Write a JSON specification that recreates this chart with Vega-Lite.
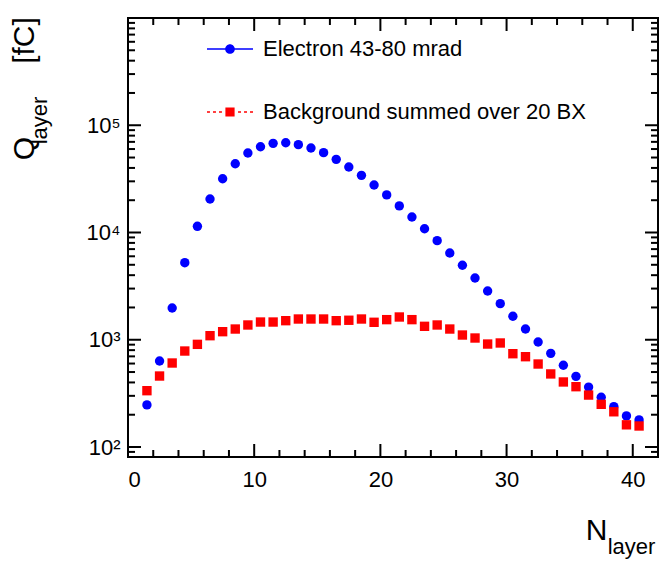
{
  "$schema": "https://vega.github.io/schema/vega-lite/v6.json",
  "width": 530,
  "height": 439,
  "autosize": {"type": "none"},
  "padding": {"left": 128, "top": 18, "right": 2, "bottom": 106},
  "background": "white",
  "config": {
    "view": {"stroke": "#000000", "strokeWidth": 2, "fill": null},
    "font": "Liberation Sans",
    "axis": {
      "grid": false,
      "labelFont": "Liberation Sans",
      "labelFontSize": 22,
      "labelColor": "#000000",
      "titleFont": "Liberation Sans",
      "titleFontWeight": "normal",
      "titleColor": "#000000"
    },
    "legend": {
      "orient": "none",
      "title": null,
      "symbolSize": 2116,
      "labelFontSize": 22,
      "labelFont": "Liberation Sans",
      "labelColor": "#000000",
      "labelOffset": 10,
      "labelLimit": 400,
      "symbolStrokeWidth": 0
    }
  },
  "datasets": {
    "xmajor": [{"v": 0}, {"v": 10}, {"v": 20}, {"v": 30}, {"v": 40}],
    "xminor": [{"v": 2}, {"v": 4}, {"v": 6}, {"v": 8}, {"v": 12}, {"v": 14}, {"v": 16}, {"v": 18}, {"v": 22}, {"v": 24}, {"v": 26}, {"v": 28}, {"v": 32}, {"v": 34}, {"v": 36}, {"v": 38}],
    "ymajor": [{"v": 100}, {"v": 1000}, {"v": 10000}, {"v": 100000}],
    "yminor": [{"v": 90}, {"v": 200}, {"v": 300}, {"v": 400}, {"v": 500}, {"v": 600}, {"v": 700}, {"v": 800}, {"v": 900}, {"v": 2000}, {"v": 3000}, {"v": 4000}, {"v": 5000}, {"v": 6000}, {"v": 7000}, {"v": 8000}, {"v": 9000}, {"v": 20000}, {"v": 30000}, {"v": 40000}, {"v": 50000}, {"v": 60000}, {"v": 70000}, {"v": 80000}, {"v": 90000}, {"v": 200000}, {"v": 300000}, {"v": 400000}, {"v": 500000}, {"v": 600000}, {"v": 700000}, {"v": 800000}, {"v": 900000}]
  },
  "data": {
    "values": [
      {"n": 1.5, "q": 247, "series": "Electron 43-80 mrad"},
      {"n": 2.5, "q": 634, "series": "Electron 43-80 mrad"},
      {"n": 3.5, "q": 1977, "series": "Electron 43-80 mrad"},
      {"n": 4.5, "q": 5230, "series": "Electron 43-80 mrad"},
      {"n": 5.5, "q": 11420, "series": "Electron 43-80 mrad"},
      {"n": 6.5, "q": 20530, "series": "Electron 43-80 mrad"},
      {"n": 7.5, "q": 31740, "series": "Electron 43-80 mrad"},
      {"n": 8.5, "q": 43800, "series": "Electron 43-80 mrad"},
      {"n": 9.5, "q": 55100, "series": "Electron 43-80 mrad"},
      {"n": 10.5, "q": 63100, "series": "Electron 43-80 mrad"},
      {"n": 11.5, "q": 67800, "series": "Electron 43-80 mrad"},
      {"n": 12.5, "q": 68700, "series": "Electron 43-80 mrad"},
      {"n": 13.5, "q": 65900, "series": "Electron 43-80 mrad"},
      {"n": 14.5, "q": 61400, "series": "Electron 43-80 mrad"},
      {"n": 15.5, "q": 55500, "series": "Electron 43-80 mrad"},
      {"n": 16.5, "q": 48100, "series": "Electron 43-80 mrad"},
      {"n": 17.5, "q": 40800, "series": "Electron 43-80 mrad"},
      {"n": 18.5, "q": 34100, "series": "Electron 43-80 mrad"},
      {"n": 19.5, "q": 27700, "series": "Electron 43-80 mrad"},
      {"n": 20.5, "q": 22400, "series": "Electron 43-80 mrad"},
      {"n": 21.5, "q": 17700, "series": "Electron 43-80 mrad"},
      {"n": 22.5, "q": 13950, "series": "Electron 43-80 mrad"},
      {"n": 23.5, "q": 10850, "series": "Electron 43-80 mrad"},
      {"n": 24.5, "q": 8390, "series": "Electron 43-80 mrad"},
      {"n": 25.5, "q": 6440, "series": "Electron 43-80 mrad"},
      {"n": 26.5, "q": 4950, "series": "Electron 43-80 mrad"},
      {"n": 27.5, "q": 3765, "series": "Electron 43-80 mrad"},
      {"n": 28.5, "q": 2850, "series": "Electron 43-80 mrad"},
      {"n": 29.5, "q": 2170, "series": "Electron 43-80 mrad"},
      {"n": 30.5, "q": 1655, "series": "Electron 43-80 mrad"},
      {"n": 31.5, "q": 1259, "series": "Electron 43-80 mrad"},
      {"n": 32.5, "q": 953, "series": "Electron 43-80 mrad"},
      {"n": 33.5, "q": 747, "series": "Electron 43-80 mrad"},
      {"n": 34.5, "q": 578, "series": "Electron 43-80 mrad"},
      {"n": 35.5, "q": 456, "series": "Electron 43-80 mrad"},
      {"n": 36.5, "q": 362, "series": "Electron 43-80 mrad"},
      {"n": 37.5, "q": 291, "series": "Electron 43-80 mrad"},
      {"n": 38.5, "q": 238, "series": "Electron 43-80 mrad"},
      {"n": 39.5, "q": 195, "series": "Electron 43-80 mrad"},
      {"n": 40.5, "q": 179, "series": "Electron 43-80 mrad"},
      {"n": 1.5, "q": 335, "series": "Background summed over 20 BX"},
      {"n": 2.5, "q": 459, "series": "Background summed over 20 BX"},
      {"n": 3.5, "q": 607, "series": "Background summed over 20 BX"},
      {"n": 4.5, "q": 785, "series": "Background summed over 20 BX"},
      {"n": 5.5, "q": 906, "series": "Background summed over 20 BX"},
      {"n": 6.5, "q": 1091, "series": "Background summed over 20 BX"},
      {"n": 7.5, "q": 1189, "series": "Background summed over 20 BX"},
      {"n": 8.5, "q": 1259, "series": "Background summed over 20 BX"},
      {"n": 9.5, "q": 1373, "series": "Background summed over 20 BX"},
      {"n": 10.5, "q": 1463, "series": "Background summed over 20 BX"},
      {"n": 11.5, "q": 1463, "series": "Background summed over 20 BX"},
      {"n": 12.5, "q": 1506, "series": "Background summed over 20 BX"},
      {"n": 13.5, "q": 1561, "series": "Background summed over 20 BX"},
      {"n": 14.5, "q": 1561, "series": "Background summed over 20 BX"},
      {"n": 15.5, "q": 1561, "series": "Background summed over 20 BX"},
      {"n": 16.5, "q": 1506, "series": "Background summed over 20 BX"},
      {"n": 17.5, "q": 1520, "series": "Background summed over 20 BX"},
      {"n": 18.5, "q": 1561, "series": "Background summed over 20 BX"},
      {"n": 19.5, "q": 1455, "series": "Background summed over 20 BX"},
      {"n": 20.5, "q": 1540, "series": "Background summed over 20 BX"},
      {"n": 21.5, "q": 1630, "series": "Background summed over 20 BX"},
      {"n": 22.5, "q": 1540, "series": "Background summed over 20 BX"},
      {"n": 23.5, "q": 1334, "series": "Background summed over 20 BX"},
      {"n": 24.5, "q": 1373, "series": "Background summed over 20 BX"},
      {"n": 25.5, "q": 1259, "series": "Background summed over 20 BX"},
      {"n": 26.5, "q": 1107, "series": "Background summed over 20 BX"},
      {"n": 27.5, "q": 1038, "series": "Background summed over 20 BX"},
      {"n": 28.5, "q": 912, "series": "Background summed over 20 BX"},
      {"n": 29.5, "q": 933, "series": "Background summed over 20 BX"},
      {"n": 30.5, "q": 741, "series": "Background summed over 20 BX"},
      {"n": 31.5, "q": 695, "series": "Background summed over 20 BX"},
      {"n": 32.5, "q": 594, "series": "Background summed over 20 BX"},
      {"n": 33.5, "q": 480, "series": "Background summed over 20 BX"},
      {"n": 34.5, "q": 404, "series": "Background summed over 20 BX"},
      {"n": 35.5, "q": 365, "series": "Background summed over 20 BX"},
      {"n": 36.5, "q": 305, "series": "Background summed over 20 BX"},
      {"n": 37.5, "q": 250, "series": "Background summed over 20 BX"},
      {"n": 38.5, "q": 213, "series": "Background summed over 20 BX"},
      {"n": 39.5, "q": 161, "series": "Background summed over 20 BX"},
      {"n": 40.5, "q": 157, "series": "Background summed over 20 BX"}
    ]
  },
  "resolve": {
    "axis": {"x": "independent", "y": "independent"},
    "scale": {"fill": "independent"},
    "legend": {"fill": "independent"}
  },
  "layer": [
    {
      "data": {"name": "xmajor"},
      "mark": {"type": "bar", "size": 2, "color": "#000000", "opacity": 1},
      "encoding": {
        "x": {"field": "v", "type": "quantitative", "axis": null},
        "y": {"datum": 80.7, "type": "quantitative", "axis": null},
        "y2": {"datum": 106.7}
      }
    },
    {
      "data": {"name": "xmajor"},
      "mark": {"type": "bar", "size": 2, "color": "#000000", "opacity": 1},
      "encoding": {
        "x": {"field": "v", "type": "quantitative", "axis": null},
        "y": {"datum": 756400, "type": "quantitative", "axis": null},
        "y2": {"datum": 1000000}
      }
    },
    {
      "data": {"name": "xminor"},
      "mark": {"type": "bar", "size": 2, "color": "#000000", "opacity": 1},
      "encoding": {
        "x": {"field": "v", "type": "quantitative", "axis": null},
        "y": {"datum": 80.7, "type": "quantitative", "axis": null},
        "y2": {"datum": 93.8}
      }
    },
    {
      "data": {"name": "xminor"},
      "mark": {"type": "bar", "size": 2, "color": "#000000", "opacity": 1},
      "encoding": {
        "x": {"field": "v", "type": "quantitative", "axis": null},
        "y": {"datum": 860600, "type": "quantitative", "axis": null},
        "y2": {"datum": 1000000}
      }
    },
    {
      "data": {"name": "ymajor"},
      "mark": {"type": "bar", "size": 2, "color": "#000000", "opacity": 1, "orient": "horizontal"},
      "encoding": {
        "y": {"field": "v", "type": "quantitative", "axis": null},
        "x": {"datum": 0, "type": "quantitative", "axis": null},
        "x2": {"datum": 1.03}
      }
    },
    {
      "data": {"name": "ymajor"},
      "mark": {"type": "bar", "size": 2, "color": "#000000", "opacity": 1, "orient": "horizontal"},
      "encoding": {
        "y": {"field": "v", "type": "quantitative", "axis": null},
        "x": {"datum": 40.97, "type": "quantitative", "axis": null},
        "x2": {"datum": 42}
      }
    },
    {
      "data": {"name": "yminor"},
      "mark": {"type": "bar", "size": 2, "color": "#000000", "opacity": 1, "orient": "horizontal"},
      "encoding": {
        "y": {"field": "v", "type": "quantitative", "axis": null},
        "x": {"datum": 0, "type": "quantitative", "axis": null},
        "x2": {"datum": 0.555}
      }
    },
    {
      "data": {"name": "yminor"},
      "mark": {"type": "bar", "size": 2, "color": "#000000", "opacity": 1, "orient": "horizontal"},
      "encoding": {
        "y": {"field": "v", "type": "quantitative", "axis": null},
        "x": {"datum": 41.445, "type": "quantitative", "axis": null},
        "x2": {"datum": 42}
      }
    },
    {
      "transform": [{"filter": "datum.series === 'Electron 43-80 mrad'"}],
      "mark": {"type": "point", "shape": "circle", "filled": true, "opacity": 1, "size": 88},
      "encoding": {
        "x": {
          "field": "n", "type": "quantitative",
          "scale": {"domain": [0.3962, 41.6038], "nice": false, "zero": false},
          "axis": {
            "orient": "bottom", "values": [0, 10, 20, 30, 40],
            "domain": false, "ticks": true, "tickOpacity": 0, "tickSize": -13,
            "labelPadding": 25, "labelBaseline": "top", "format": "d",
            "title": "N", "titleFontSize": 30, "titleAlign": "center", "titleBaseline": "alphabetic",
            "titleX": 468, "titleY": 82, "titleAngle": 0
          }
        },
        "y": {
          "field": "q", "type": "quantitative",
          "scale": {"type": "log", "domain": [89.83, 898100], "nice": false},
          "axis": {
            "orient": "left", "values": [100, 1000, 10000, 100000, 1000000],
            "domain": false, "ticks": true, "tickOpacity": 0, "tickSize": -13,
            "labelPadding": 21,
            "labelExpr": "datum.value == 100 ? '10²' : datum.value == 1000 ? '10³' : datum.value == 10000 ? '10⁴' : datum.value == 100000 ? '10⁵' : '10⁶'",
            "title": "Q", "titleFontSize": 30, "titleAngle": -90, "titleAlign": "center", "titleBaseline": "alphabetic",
            "titleX": -95, "titleY": 130
          }
        },
        "fill": {
          "field": "series", "type": "nominal",
          "scale": {"domain": ["Electron 43-80 mrad"], "range": ["#0000ff"]},
          "legend": {
            "legendX": 79, "legendY": 8,
            "symbolType": "M-1,-0.035H1V0.035H-1Z M0.21,0A0.21,0.21,0,1,1,-0.21,0A0.21,0.21,0,1,1,0.21,0Z"
          }
        }
      }
    },
    {
      "transform": [{"filter": "datum.series === 'Background summed over 20 BX'"}],
      "mark": {"type": "point", "shape": "square", "filled": true, "opacity": 1, "size": 88},
      "encoding": {
        "x": {
          "field": "n", "type": "quantitative",
          "axis": {
            "orient": "bottom", "values": [2], "domain": false, "ticks": false, "labels": false,
            "title": "layer", "titleFontSize": 22, "titleAlign": "center", "titleBaseline": "alphabetic",
            "titleX": 503, "titleY": 96, "titleAngle": 0
          }
        },
        "y": {
          "field": "q", "type": "quantitative",
          "axis": {
            "orient": "left", "values": [200], "domain": false, "ticks": false, "labels": false,
            "title": "layer", "titleFontSize": 22, "titleAngle": -90, "titleAlign": "center", "titleBaseline": "alphabetic",
            "titleX": -82, "titleY": 102
          }
        },
        "fill": {
          "field": "series", "type": "nominal",
          "scale": {"domain": ["Background summed over 20 BX"], "range": ["#ff0000"]},
          "legend": {
            "legendX": 79, "legendY": 71,
            "symbolType": "M-1,-0.035H-0.87V0.035H-1Z M-0.74,-0.035H-0.61V0.035H-0.74Z M-0.48,-0.035H-0.35V0.035H-0.48Z M-0.2,-0.2H0.2V0.2H-0.2Z M0.35,-0.035H0.48V0.035H0.35Z M0.61,-0.035H0.74V0.035H0.61Z M0.87,-0.035H1V0.035H0.87Z"
          }
        }
      }
    },
    {
      "mark": {"type": "point", "opacity": 0},
      "encoding": {
        "x": {"field": "n", "type": "quantitative", "axis": null},
        "y": {
          "field": "q", "type": "quantitative",
          "axis": {
            "orient": "left", "values": [200], "domain": false, "ticks": false, "labels": false,
            "title": "[fC]", "titleFontSize": 30, "titleAngle": -90, "titleAlign": "center", "titleBaseline": "alphabetic",
            "titleX": -95, "titleY": 22
          }
        }
      }
    }
  ]
}
